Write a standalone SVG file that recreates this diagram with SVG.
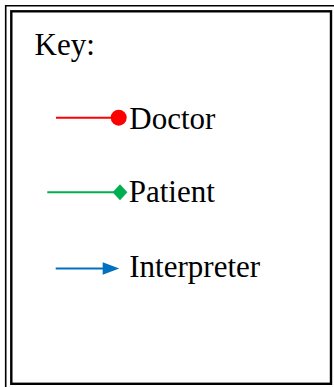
<svg xmlns="http://www.w3.org/2000/svg" width="334" height="387" viewBox="0 0 334 387">
<style>
text{font-family:"Liberation Serif","Times New Roman",serif;font-size:31px;fill:#000}
.ln{fill:none;stroke-width:2}
</style>
<rect width="334" height="387" fill="#fff"/>
<g id="frame" fill="none" stroke="#000">
<path d="M5.7,392 V5.7 H340" stroke-width="1.6"/>
<rect x="11.3" y="11.3" width="319.7" height="372.5" stroke-width="2.4"/>
</g>
<g id="title"><text x="34.5" y="54.5">Key:</text></g>
<g id="connectors">
<line class="ln" x1="56" y1="117.7" x2="114" y2="117.7" stroke="#FF0000"/>
<circle cx="118.7" cy="117.7" r="8" fill="#FF0000"/>
<line class="ln" x1="47.3" y1="192.3" x2="114" y2="192.3" stroke="#00B050"/>
<polygon points="112.6,192.3 120,184.3 127.4,192.3 120,200.3" fill="#00B050"/>
<line class="ln" x1="55.7" y1="268.5" x2="104" y2="268.5" stroke="#0070C0"/>
<polygon points="102.7,262.2 119.2,268.5 102.7,274.8" fill="#0070C0"/>
</g>
<g id="doctor"><text x="129.3" y="129.2">Doctor</text></g>
<g id="patient"><text x="128.7" y="201.8">Patient</text></g>
<g id="interpreter"><text x="129.3" y="276.8">Interpreter</text></g>
</svg>
